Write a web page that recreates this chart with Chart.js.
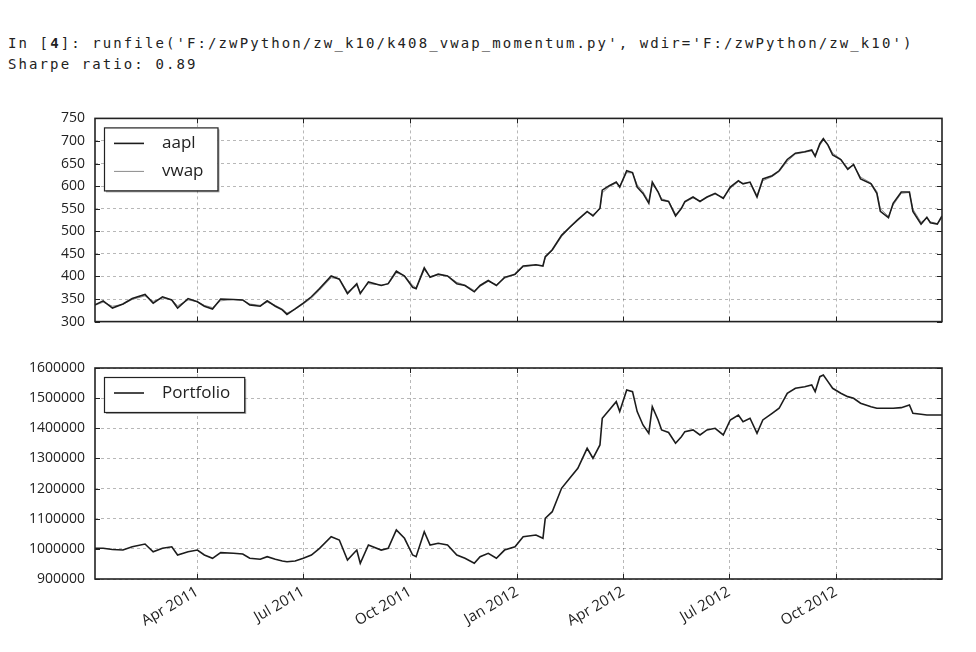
<!DOCTYPE html>
<html>
<head>
<meta charset="utf-8">
<script src="https://cdn.jsdelivr.net/npm/chart.js@4.4.1/dist/chart.umd.min.js"></script>
<style>
  body { margin: 0; background: #fff; width: 976px; height: 652px; overflow: hidden; position: relative; }
  .console {
    position: absolute; left: 8px; top: 33px;
    font-family: 'DejaVu Sans Mono', monospace; font-size: 14px; letter-spacing: 2.1px;
    line-height: 21px; color: #222; white-space: pre;
  }
  #priceWrap { position: absolute; left: 0; top: 100px; width: 976px; height: 240px; }
  #valueWrap { position: absolute; left: 0; top: 340px; width: 976px; height: 312px; }
</style>
</head>
<body>
<div class="console">In [<b>4</b>]: runfile('F:/zwPython/zw_k10/k408_vwap_momentum.py', wdir='F:/zwPython/zw_k10')
Sharpe ratio: 0.89</div>
<div id="priceWrap"><canvas id="price" width="976" height="240"></canvas></div>
<div id="valueWrap"><canvas id="value" width="976" height="312"></canvas></div>
<script>
const dates = [
  '2011-01-03','2011-01-10','2011-01-18','2011-01-27','2011-02-04','2011-02-15','2011-02-22','2011-03-02','2011-03-10','2011-03-15',
  '2011-03-24','2011-04-01','2011-04-07','2011-04-14','2011-04-21','2011-05-02','2011-05-10','2011-05-16','2011-05-25','2011-05-31',
  '2011-06-07','2011-06-13','2011-06-17','2011-06-24','2011-07-01','2011-07-08','2011-07-15','2011-07-25','2011-08-01','2011-08-08',
  '2011-08-16','2011-08-19','2011-08-26','2011-09-06','2011-09-12','2011-09-19','2011-09-26','2011-10-03','2011-10-06','2011-10-13',
  '2011-10-18','2011-10-25','2011-11-02','2011-11-10','2011-11-17','2011-11-25','2011-11-30','2011-12-07','2011-12-14','2011-12-21',
  '2011-12-30','2012-01-06','2012-01-17','2012-01-23','2012-01-25','2012-01-31','2012-02-08','2012-02-15','2012-02-22','2012-03-01',
  '2012-03-06','2012-03-12','2012-03-14','2012-03-20','2012-03-26','2012-03-29','2012-04-04','2012-04-09','2012-04-13','2012-04-18',
  '2012-04-23','2012-04-26','2012-05-01','2012-05-04','2012-05-10','2012-05-16','2012-05-21','2012-05-24','2012-05-31','2012-06-06',
  '2012-06-12','2012-06-19','2012-06-26','2012-07-02','2012-07-09','2012-07-13','2012-07-19','2012-07-25','2012-07-30','2012-08-07',
  '2012-08-13','2012-08-20','2012-08-27','2012-09-04','2012-09-10','2012-09-13','2012-09-17','2012-09-20','2012-09-24','2012-09-28',
  '2012-10-05','2012-10-11','2012-10-16','2012-10-22','2012-10-31','2012-11-05','2012-11-08','2012-11-15','2012-11-19','2012-11-26',
  '2012-12-03','2012-12-06','2012-12-13','2012-12-18','2012-12-21','2012-12-27','2012-12-31'
];

const aapl = [
  337,346,330,339,351,360,341,355,348,330,
  351,344,334,328,350,349,348,337,334,346,
  334,326,316,328,341,355,373,401,394,362,
  384,362,388,380,384,412,401,376,373,419,
  398,405,401,384,380,366,380,391,380,398,
  405,423,426,423,444,459,491,509,526,544,
  534,551,591,601,609,598,634,630,598,584,
  562,609,587,569,566,534,551,566,576,566,
  576,584,573,598,612,605,609,576,616,623,
  634,659,673,676,680,666,694,705,691,669,
  659,637,648,616,605,584,544,530,562,587,
  587,544,516,531,519,516,534
];

const vwap = [
  336,343,334,338,349,357,345,352,348,335,
  348,344,336,331,346,349,347,339,336,343,
  336,328,319,327,339,352,370,397,395,366,
  380,366,384,381,383,408,402,380,375,414,
  400,404,401,387,381,369,378,389,382,396,
  404,421,425,424,441,457,488,507,524,542,
  537,549,585,599,607,600,630,629,603,588,
  566,603,588,572,567,538,549,564,574,567,
  575,582,575,595,610,606,608,580,612,621,
  632,655,671,675,678,669,690,702,692,673,
  660,640,646,620,607,588,550,533,558,584,
  586,549,520,529,521,517,530
];

const portfolio = [
  1001800,1002000,998000,996000,1007000,1016000,990500,1002000,1007000,979600,
  990500,996000,979600,968700,987300,985300,983000,968700,965400,974000,
  965400,959700,957400,959700,968700,979600,1001800,1040000,1029400,963000,
  996000,952000,1012800,996000,1001800,1062600,1035000,979600,974000,1057000,
  1012800,1018500,1012800,979600,968700,952000,974000,985300,968700,996000,
  1007000,1040000,1046000,1035000,1101400,1123300,1200900,1234000,1267300,1333600,
  1300500,1344600,1433200,1460700,1488300,1455300,1527100,1521500,1455300,1411000,
  1383400,1471700,1427600,1394400,1386000,1350200,1372200,1388800,1394400,1377800,
  1394400,1400000,1377800,1427600,1444100,1422000,1433200,1383400,1427600,1449800,
  1466400,1516100,1532700,1538000,1543700,1521500,1571200,1576900,1554700,1532700,
  1516100,1505000,1499600,1483000,1471700,1466400,1466400,1466400,1466400,1468400,
  1477300,1449800,1446500,1444100,1444100,1444100,1444100
];

const tickDates = ['2011-04-01','2011-07-01','2011-10-01','2012-01-01','2012-04-01','2012-07-01','2012-10-01'];
const tickLabels = ['Apr 2011','Jul 2011','Oct 2011','Jan 2012','Apr 2012','Jul 2012','Oct 2012'];
const xFirst = '2011-01-03', xLast = '2012-12-31';

// day number since epoch, so the x axis can stay a plain linear scale
const dayNum = s => Date.UTC(+s.slice(0, 4), +s.slice(5, 7) - 1, +s.slice(8, 10)) / 864e5;
const points = vals => dates.map((d, i) => ({ x: dayNum(d), y: vals[i] }));

Chart.defaults.font.family = "'Open Sans', sans-serif";
Chart.defaults.color = '#222';

// matplotlib-style box: full frame, inward ticks on all sides, legend in the upper left
const axesBox = {
  id: 'axesBox',
  afterDatasetsDraw(chart) {
    const { ctx, chartArea: a, scales } = chart;
    ctx.save();
    ctx.strokeStyle = '#222';
    ctx.lineWidth = 1;
    ctx.beginPath();
    scales.y.ticks.forEach(t => {
      const py = Math.round(scales.y.getPixelForValue(t.value)) + 0.5;
      ctx.moveTo(a.left, py); ctx.lineTo(a.left + 5, py);
      ctx.moveTo(a.right - 5, py); ctx.lineTo(a.right, py);
    });
    scales.x.ticks.forEach(t => {
      const px = Math.round(scales.x.getPixelForValue(t.value)) + 0.5;
      ctx.moveTo(px, a.top); ctx.lineTo(px, a.top + 5);
      ctx.moveTo(px, a.bottom - 5); ctx.lineTo(px, a.bottom);
    });
    ctx.stroke();
    ctx.lineWidth = 1.6;
    ctx.strokeRect(a.left, a.top, a.width, a.height);

    // legend
    const sets = chart.data.datasets;
    ctx.font = '17px "Open Sans", sans-serif';
    const bx = a.left + 9, by = a.top + 9;
    const textX = bx + 58;
    const tw = Math.max(...sets.map(s => ctx.measureText(s.label).width));
    const bw = textX - bx + tw + 14, bh = sets.length * 28 + 7;
    ctx.fillStyle = 'rgba(0,0,0,0.35)';
    ctx.fillRect(bx + 2, by + 2, bw, bh);
    ctx.fillStyle = '#fff';
    ctx.fillRect(bx, by, bw, bh);
    ctx.lineWidth = 1.2;
    ctx.strokeStyle = '#222';
    ctx.strokeRect(bx + 0.5, by + 0.5, bw, bh);
    sets.forEach((s, i) => {
      const cy = by + 16 + i * 28;
      ctx.strokeStyle = s.borderColor;
      ctx.lineWidth = s.borderWidth;
      ctx.beginPath();
      ctx.moveTo(bx + 10, cy); ctx.lineTo(bx + 40, cy);
      ctx.stroke();
      ctx.fillStyle = '#222';
      ctx.textBaseline = 'middle';
      ctx.fillText(s.label, textX, cy);
    });
    ctx.restore();
  }
};

function xAxis(showLabels, height) {
  return {
    type: 'linear',
    min: dayNum(xFirst),
    max: dayNum(xLast),
    afterBuildTicks: s => { s.ticks = tickDates.map(d => ({ value: dayNum(d) })); },
    afterFit: s => { s.height = height; },
    grid: { color: 'rgba(0,0,0,0.28)', drawTicks: false },
    border: { display: false, dash: [3, 3] },
    ticks: {
      display: showLabels,
      autoSkip: false,
      minRotation: 30,
      maxRotation: 30,
      padding: 4,
      font: { size: 15 },
      callback: (v, i) => tickLabels[i]
    }
  };
}

function yAxis(min, max, step) {
  return {
    min: min,
    max: max,
    afterFit: s => { s.width = 95; },
    grid: { color: 'rgba(0,0,0,0.28)', drawTicks: false },
    border: { display: false, dash: [3, 3] },
    ticks: { stepSize: step, autoSkip: false, padding: 10, font: { size: 14 }, callback: v => String(v) }
  };
}

const common = {
  responsive: false,
  animation: false,
  devicePixelRatio: 1,
  plugins: { legend: { display: false }, tooltip: { enabled: false } },
  elements: { point: { radius: 0 }, line: { tension: 0 } }
};

new Chart(document.getElementById('price'), {
  type: 'line',
  data: {
    datasets: [
      { label: 'aapl', data: points(aapl), borderColor: '#1c1c1c', borderWidth: 1.6 },
      { label: 'vwap', data: points(vwap), borderColor: '#8a8a8a', borderWidth: 1 }
    ]
  },
  options: {
    ...common,
    layout: { padding: { left: 0, right: 34, top: 14, bottom: 16 } },
    scales: { x: xAxis(false, 0), y: yAxis(300, 750, 50) }
  },
  plugins: [axesBox]
});

new Chart(document.getElementById('value'), {
  type: 'line',
  data: {
    datasets: [
      { label: 'Portfolio', data: points(portfolio), borderColor: '#1c1c1c', borderWidth: 1.6 }
    ]
  },
  options: {
    ...common,
    layout: { padding: { left: 0, right: 34, top: 28, bottom: 0 } },
    scales: { x: xAxis(true, 73), y: yAxis(900000, 1600000, 100000) }
  },
  plugins: [axesBox]
});
</script>
</body>
</html>
